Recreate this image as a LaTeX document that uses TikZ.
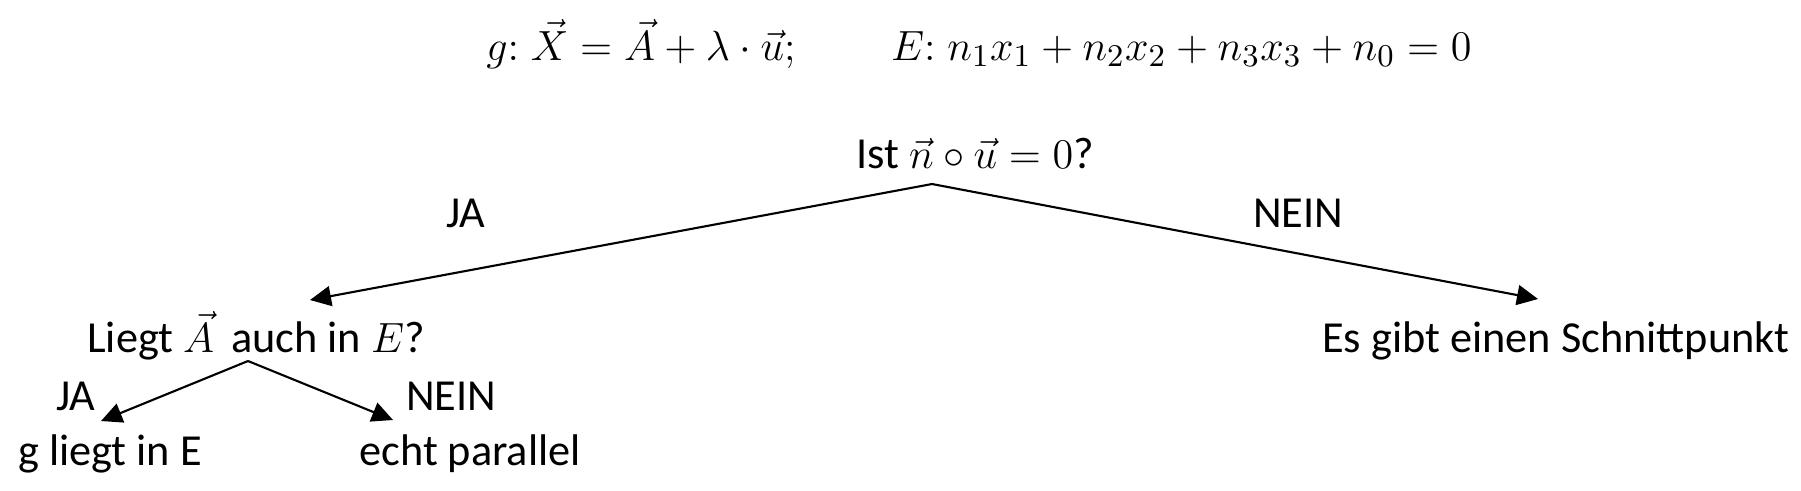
\documentclass[tikz,border=0pt]{standalone}
\usepackage{fontspec}
\setmainfont{Carlito}
\usetikzlibrary{arrows.meta,calc,positioning}

\begin{document}
\begin{tikzpicture}[x=0.01cm,y=-0.01cm,
		txt/.style={inner sep=0pt,anchor=base,font=\fontsize{12.6}{15}\selectfont},
		pfeil/.style={line width=0.6pt,-{Triangle[length=0.21cm,width=0.2cm]}}]
	\useasboundingbox (0,0) rectangle (1801,490);
	\node[txt] (formel) at (979,60) {$g{:}\;\vec{X} = \vec{A} + \lambda\cdot\vec{u};\qquad E{:}\;n_1x_1 + n_2x_2 + n_3x_3 + n_0 = 0$};
	\node[txt] (frage) at (975,168) {Ist $\vec{n}\circ\vec{u} = 0$?};
	\node[txt] (liegt) at (256,352) {Liegt $\vec{A}\,$ auch in $E$?};
	\node[txt] (schnitt) at (1556,352) {Es gibt einen Schnittpunkt};
	\node[txt] (ginE) at (110,465) {g liegt in E};
	\node[txt] (parallel) at (470,465) {echt parallel};
							\foreach \t/\x/\y [count=\n] in {JA/466/227,NEIN/1298/227,JA/76/410,NEIN/451/410}
           						\node[txt] (L\n) at (\x,\y) {\t};

	\draw[pfeil] ($(frage.base)+(-43,16)$) -- ($(liegt.base)+(54,-52)$);
	\draw[pfeil] ($(frage.base)+(-43,16)$) -- ($(schnitt.base)+(-18,-53)$);
	\draw[pfeil] ($(liegt.base)+(-8,9)$) -- ($(ginE.base)+(-9,-44)$);
	\draw[pfeil] ($(liegt.base)+(-8,9)$) -- ($(parallel.base)+(-77,-45)$);
\end{tikzpicture}
\end{document}
